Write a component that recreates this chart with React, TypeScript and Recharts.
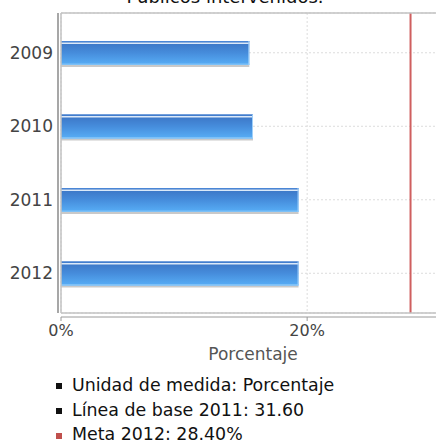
import React from 'react';
import { BarChart, Bar, XAxis, YAxis, CartesianGrid, ReferenceLine } from 'recharts';

const years = ['2009', '2010', '2011', '2012'];
const porcentajes = [15.3, 15.6, 19.3, 19.3];
const xTicks = [0, 20];
const xMax = 31.2;
const meta = 28.4;
const legendItems = [
  { text: 'Unidad de medida: Porcentaje', color: '#111' },
  { text: 'Línea de base 2011: 31.60', color: '#111' },
  { text: 'Meta 2012: 28.40%', color: '#c0504d' },
];

const data = years.map((year, i) => ({ year, value: porcentajes[i] }));

const FONT = '"DejaVu Sans", sans-serif';
const FRAME = { stroke: '#c2c2c2', strokeWidth: 1.5 };

// bar with the glossy blue look
const GlossyBar = (props: any) => {
  const { x, y, width, height } = props;
  if (!width || width <= 0) return null;
  return (
    <g>
      <rect x={x} y={y + height} width={width} height={2} fill="#c9c9c9" />
      <rect x={x} y={y} width={width} height={height} fill="url(#barGrad)" />
      <rect x={x} y={y} width={width} height={1} fill="#4a86d6" />
      <rect x={x} y={y + 1.5} width={width} height={1.5} fill="#dbe9f9" />
      <rect x={x} y={y + height - 1.5} width={width} height={1.5} fill="#7cc0f7" />
      <rect x={x + width - 1} y={y} width={1} height={height} fill="#9fd0fa" />
    </g>
  );
};

export default function App() {
  return (
    <div style={{ position: 'absolute', left: 0, top: 0, width: 436, height: 443, overflow: 'hidden', background: '#fff', fontFamily: FONT }}>
      <div style={{ position: 'absolute', left: 0, top: -13, width: 450, textAlign: 'center', fontSize: 18, lineHeight: '20px', color: '#111' }}>
        Públicos intervenidos.
      </div>
      <BarChart
        width={450}
        height={443}
        data={data}
        layout="vertical"
        margin={{ top: 12, right: 5, bottom: 80, left: 0 }}
        style={{ position: 'absolute', left: 0, top: 0 }}
      >
        <defs>
          <linearGradient id="barGrad" x1="0" y1="0" x2="0" y2="1">
            <stop offset="0" stopColor="#3a72c2" />
            <stop offset="0.5" stopColor="#468ddc" />
            <stop offset="1" stopColor="#58aef6" />
          </linearGradient>
        </defs>
        <CartesianGrid stroke="#dcdcdc" strokeDasharray="2 2" />
        {/* data axes sit next to the plot and draw its frame */}
        <XAxis
          type="number"
          domain={[0, xMax]}
          ticks={xTicks}
          tickFormatter={(v: number) => `${v}%`}
          height={4}
          tickSize={4}
          tickMargin={8}
          axisLine={FRAME}
          tickLine={{ stroke: '#9a9a9a', transform: 'translate(0 4)' }}
          tick={{ fill: '#444', fontSize: 16, fontFamily: FONT }}
        />
        <YAxis
          type="category"
          dataKey="year"
          width={3}
          padding={{ top: 3, bottom: 3 }}
          tickLine={false}
          tickSize={6}
          tickMargin={2}
          axisLine={FRAME}
          tick={{ fill: '#444', fontSize: 17, fontFamily: FONT }}
        />
        {/* outer axis lines */}
        <XAxis xAxisId="frameTop" orientation="top" type="number" domain={[0, xMax]} height={1} tick={false} tickLine={false} axisLine={FRAME} />
        <XAxis
          xAxisId="outerBottom"
          orientation="bottom"
          type="number"
          domain={[0, xMax]}
          height={46}
          tick={false}
          tickLine={false}
          axisLine={{ stroke: '#9a9a9a' }}
          label={{ value: 'Porcentaje', position: 'insideBottom', offset: 3, fill: '#555', fontSize: 17, fontFamily: FONT }}
        />
        <YAxis yAxisId="outerLeft" type="category" dataKey="year" width={58} tick={false} tickLine={false} axisLine={{ stroke: '#8a8a8a', strokeWidth: 1.5 }} />
        <Bar dataKey="value" barSize={24} shape={GlossyBar} isAnimationActive={false} />
        <ReferenceLine x={meta} stroke="#cf5f5f" strokeWidth={2} />
      </BarChart>
      <div style={{ position: 'absolute', left: 56, top: 373, fontSize: 17.4, lineHeight: '24.7px', color: '#111' }}>
        {legendItems.map((it) => (
          <div key={it.text} style={{ display: 'flex', alignItems: 'center' }}>
            <span style={{ display: 'inline-block', width: 6, height: 6, background: it.color, marginRight: 10, marginTop: 2 }} />
            <span>{it.text}</span>
          </div>
        ))}
      </div>
    </div>
  );
}
